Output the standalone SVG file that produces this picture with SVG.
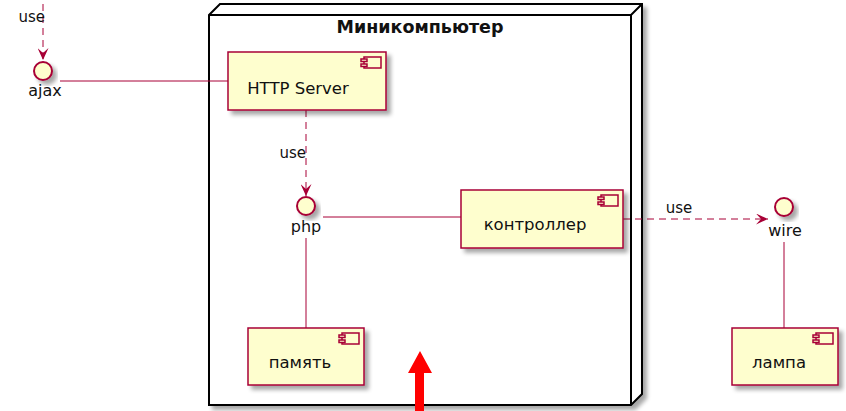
<svg xmlns="http://www.w3.org/2000/svg" width="846" height="411" viewBox="0 0 846 411">
<defs>
<filter id="sh" x="-20%" y="-20%" width="150%" height="150%">
<feGaussianBlur in="SourceAlpha" stdDeviation="2"/>
<feOffset dx="4" dy="4" result="b"/>
<feComponentTransfer><feFuncA type="linear" slope="0.35"/></feComponentTransfer>
<feMerge><feMergeNode/><feMergeNode in="SourceGraphic"/></feMerge>
</filter>
<marker id="ah" viewBox="0 0 12 11" refX="12" refY="5.5" markerWidth="12" markerHeight="11" markerUnits="userSpaceOnUse" orient="auto">
<path d="M0,0 L12,5.5 L0,11 L5,5.5 Z" fill="#A80036"/>
</marker>
</defs>
<style>
.comp{fill:#FEFECE;stroke:#A80036;stroke-width:1.5}
.icon{fill:#FEFECE;stroke:#A80036;stroke-width:1.5}
.ifc{fill:#FEFECE;stroke:#A80036;stroke-width:2}
.ln{stroke:#A80036;stroke-width:1;fill:none}
.dash{stroke:#A80036;stroke-width:1;fill:none;stroke-dasharray:7,5}
text{font-family:"DejaVu Sans","Noto Sans",sans-serif;fill:#111}
.cn{font-size:16.5px;text-anchor:middle}
.lb{font-size:16px;text-anchor:middle}
.use{font-size:15px}
.title{font-size:17.5px;font-weight:bold;text-anchor:middle}
</style>
<g id="minicomputer">
<g filter="url(#sh)">
<path d="M209,15 L220,4 L642,4 L642,394 L631,405 L209,405 Z" fill="#FFFFFF" stroke="#000" stroke-width="2"/>
<path d="M209,15 L631,15 L642,4 M631,15 L631,405" fill="none" stroke="#000" stroke-width="2"/>
</g>
<text class="title" x="420" y="33">Миникомпьютер</text>
</g>
<g id="connectors">
<line class="dash" x1="43" y1="4" x2="43" y2="60" marker-end="url(#ah)"/>
<text class="use" x="45" y="22" text-anchor="end">use</text>
<line class="ln" x1="60" y1="81" x2="228" y2="81"/>
<line class="dash" x1="306" y1="110" x2="306" y2="196" marker-end="url(#ah)"/>
<text class="use" x="306" y="158" text-anchor="end">use</text>
<line class="ln" x1="323" y1="217" x2="461" y2="217"/>
<line class="ln" x1="306" y1="238" x2="306" y2="328"/>
<line class="dash" x1="623" y1="219" x2="768" y2="219" marker-end="url(#ah)"/>
<text class="use" x="679" y="213" text-anchor="middle">use</text>
<line class="ln" x1="784" y1="242" x2="784" y2="328"/>
</g>
<g id="ajax">
<circle class="ifc" cx="43" cy="71" r="9" filter="url(#sh)"/>
<text class="lb" x="45" y="96">ajax</text>
</g>
<g id="http-server">
<rect class="comp" x="228" y="52" width="158" height="58" filter="url(#sh)"/>
<rect class="icon" x="364" y="57" width="17" height="11"/>
<rect class="icon" x="361" y="59" width="6" height="2.5"/>
<rect class="icon" x="361" y="64" width="6" height="2.5"/>
<text class="cn" x="298" y="94">HTTP Server</text>
</g>
<g id="php">
<circle class="ifc" cx="306" cy="206" r="9" filter="url(#sh)"/>
<text class="lb" x="306" y="232">php</text>
</g>
<g id="controller">
<rect class="comp" x="461" y="190" width="162" height="58" filter="url(#sh)"/>
<rect class="icon" x="601" y="195" width="17" height="11"/>
<rect class="icon" x="598" y="197" width="6" height="2.5"/>
<rect class="icon" x="598" y="202" width="6" height="2.5"/>
<text class="cn" x="535" y="230">контроллер</text>
</g>
<g id="memory">
<rect class="comp" x="248" y="328" width="116" height="57" filter="url(#sh)"/>
<rect class="icon" x="342" y="333" width="17" height="11"/>
<rect class="icon" x="339" y="335" width="6" height="2.5"/>
<rect class="icon" x="339" y="340" width="6" height="2.5"/>
<text class="cn" x="300" y="368">память</text>
</g>
<g id="wire">
<circle class="ifc" cx="784" cy="207" r="9" filter="url(#sh)"/>
<text class="lb" x="785" y="236">wire</text>
</g>
<g id="lamp">
<rect class="comp" x="732" y="328" width="106" height="57" filter="url(#sh)"/>
<rect class="icon" x="816" y="333" width="17" height="11"/>
<rect class="icon" x="813" y="335" width="6" height="2.5"/>
<rect class="icon" x="813" y="340" width="6" height="2.5"/>
<text class="cn" x="779" y="368">лампа</text>
</g>
<polygon points="420,351 432,373 424,373 424,411 415,411 415,373 408,373" fill="#FF0000"/>
</svg>
